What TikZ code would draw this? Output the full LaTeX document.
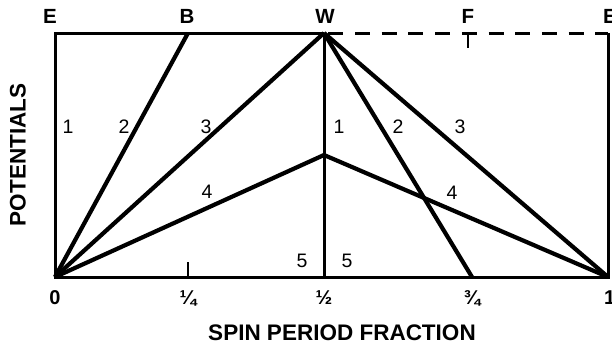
\documentclass[tikz,border=0pt]{standalone}
\usepackage{fontspec}
\setmainfont{Liberation Sans}
\begin{document}
\begin{tikzpicture}[x=1pt,y=-1pt,
  boxline/.style={line width=3pt},
  ray/.style={line width=4.2pt},
  midline/.style={line width=3pt},
  dashline/.style={line width=3pt,dash pattern=on 15pt off 11.7pt,dash phase=22.4pt},
  toplbl/.style={font=\fontsize{20.5}{21}\selectfont\bfseries,inner sep=0pt},
  botlbl/.style={font=\fontsize{20}{20}\selectfont\bfseries,inner sep=0pt},
  numlbl/.style={font=\fontsize{19.5}{20}\selectfont,inner sep=0pt},
  axlbl/.style={font=\fontsize{22.5}{23}\selectfont\bfseries,inner sep=0pt}]
\useasboundingbox (0,0) rectangle (612,348);
% key points
\coordinate (O) at (55,277);
\coordinate (TL) at (55,33);
\coordinate (B) at (188,33);
\coordinate (W) at (324,33);
\coordinate (TR) at (608,33);
\coordinate (BR) at (608,277);
\coordinate (H) at (324,277);
\coordinate (Q3) at (472,277);
\coordinate (P) at (324,155);
\coordinate (F) at (468,33);
\coordinate (Fb) at (468,48);
\coordinate (Q1) at (188,277);
\coordinate (Q1t) at (188,262);
% frame
\draw[boxline] (W) -- (TL) -- (O) -- (BR) -- (TR);
\draw[dashline] (W) -- (TR);
\draw[line width=2.5pt] (F) -- (Fb);
\draw[line width=2.5pt] (Q1) -- (Q1t);
% rays
\draw[ray] (O) -- (B);
\draw[ray] (O) -- (W);
\draw[ray] (O) -- (P) -- (BR);
\draw[ray] (W) -- (BR);
\draw[ray] (W) -- (Q3);
\draw[midline] (W) -- (H);
% top labels
\node[toplbl] (lE1) at (50,16) {E};
\node[toplbl] (lB) at (187,16) {B};
\node[toplbl] (lW) at (325,16) {W};
\node[toplbl] (lF) at (468,16) {F};
\node[toplbl,anchor=west] (lE2) at (603,16) {E};
% bottom labels
\node[botlbl] (l0) at (55,298) {0};
\node[botlbl] (lq) at (188,298) {¼};
\node[botlbl] (lh) at (324,298) {½};
\node[botlbl] (lt) at (472,298) {¾};
\node[botlbl,anchor=west] (l1) at (604,298) {1};
% numbers
\node[numlbl] (n1a) at (68,127) {1};
\node[numlbl] (n2a) at (124,127) {2};
\node[numlbl] (n3a) at (206,127) {3};
\node[numlbl] (n1b) at (339,127) {1};
\node[numlbl] (n2b) at (398,127) {2};
\node[numlbl] (n3b) at (460,127) {3};
\node[numlbl] (n4a) at (207,192) {4};
\node[numlbl] (n4b) at (452,193) {4};
\node[numlbl] (n5a) at (302,261) {5};
\node[numlbl] (n5b) at (347,261) {5};
% axis titles
\node[axlbl] (xt) at (342,333) {SPIN PERIOD FRACTION};
\node[axlbl,rotate=90] (yt) at (18,155) {POTENTIALS};
\end{tikzpicture}
\end{document}
